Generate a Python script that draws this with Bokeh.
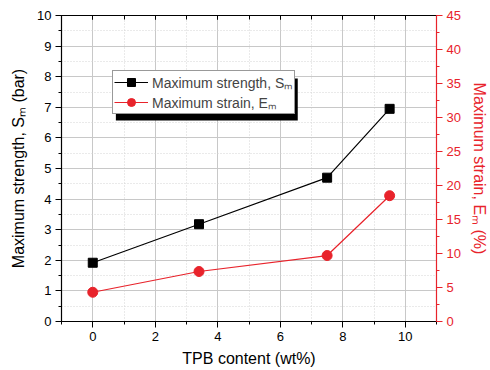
from bokeh.plotting import figure
from bokeh.models import (LinearAxis, Range1d, SingleIntervalTicker, Legend, LegendItem,
                          BoxAnnotation, CustomJSTickFormatter)
from bokeh.embed import file_html
from bokeh.resources import INLINE

# data
tpb = [0.0, 3.4, 7.5, 9.5]
strength = [1.92, 3.18, 4.70, 6.95]
strain = [4.3, 7.35, 9.7, 18.5]

RED = "#e8232b"
FONT = "Liberation Sans"

p = figure(width=490, height=370, output_backend="svg", toolbar_location=None,
           x_range=Range1d(-1, 11), y_range=Range1d(0, 10),
           min_border_left=61, min_border_right=49, min_border_top=15, min_border_bottom=49)
p.extra_y_ranges = {"right": Range1d(0, 45)}
p.outline_line_color = "black"
p.outline_line_width = 1
p.background_fill_color = "white"

xt = SingleIntervalTicker(interval=2, num_minor_ticks=2)
yt = SingleIntervalTicker(interval=1, num_minor_ticks=2)
p.xaxis.ticker = xt
p.yaxis.ticker = yt

for ax in (p.xaxis[0], p.yaxis[0]):
    ax.axis_line_color = "black"
    ax.axis_line_width = 1.2
    ax.major_tick_line_color = "black"
    ax.minor_tick_line_color = "black"
    ax.major_tick_in = 0
    ax.major_tick_out = 6
    ax.minor_tick_in = 0
    ax.minor_tick_out = 3
    ax.major_label_text_font = FONT
    ax.major_label_text_font_size = "13px"
    ax.major_label_text_color = "black"
    ax.axis_label_text_font = FONT
    ax.axis_label_text_font_size = "16px"
    ax.axis_label_text_font_style = "normal"
    ax.axis_label_text_color = "black"
    ax.major_label_standoff = 4

p.xaxis.axis_label = "TPB content (wt%)"
p.xaxis.axis_label_standoff = 6
p.yaxis.axis_label = "Maximum strength, S\u2098 (bar)"
p.yaxis.axis_label_standoff = 7

# right axis
ra = LinearAxis(y_range_name="right", ticker=SingleIntervalTicker(interval=5, num_minor_ticks=2),
                axis_label="Maximum strain, E\u2098 (%)")
ra.axis_line_color = RED
ra.axis_line_width = 1.2
ra.major_tick_line_color = RED
ra.minor_tick_line_color = RED
ra.major_tick_in = 0
ra.major_tick_out = 6
ra.minor_tick_in = 0
ra.minor_tick_out = 3
ra.major_label_text_color = RED
ra.major_label_text_font = FONT
ra.major_label_text_font_size = "13px"
ra.major_label_standoff = 4
ra.axis_label_text_color = RED
ra.axis_label_text_font = FONT
ra.axis_label_text_font_size = "16px"
ra.axis_label_text_font_style = "normal"
ra.axis_label_standoff = 7
p.add_layout(ra, "right")

# top axis (mirror ticks inward, no labels)
ta = LinearAxis(ticker=SingleIntervalTicker(interval=2, num_minor_ticks=2),
                formatter=CustomJSTickFormatter(code="return ''"))
ta.axis_line_color = "black"
ta.major_tick_in = 4
ta.major_tick_out = 0
ta.minor_tick_in = 4
ta.minor_tick_out = 0
ta.major_label_standoff = 0
p.add_layout(ta, "above")

# grid
p.xgrid.grid_line_color = "#c8c8c8"
p.ygrid.grid_line_color = "#c8c8c8"
p.xgrid.minor_grid_line_color = "#d4d4d4"
p.ygrid.minor_grid_line_color = "#d4d4d4"
p.xgrid.minor_grid_line_dash = "1 2"
p.ygrid.minor_grid_line_dash = "1 2"

# data
l1 = p.line(tpb, strength, line_color="black", line_width=1.2)
s1 = p.scatter(tpb, strength, marker="square", size=9, fill_color="black", line_color="black")
l2 = p.line(tpb, strain, line_color=RED, line_width=1.2, y_range_name="right")
s2 = p.scatter(tpb, strain, marker="circle", size=10, fill_color=RED, line_color=RED,
               y_range_name="right")

# legend shadow
shadow = BoxAnnotation(left=0.74, right=6.56, top=7.94, bottom=6.57,
                       fill_color="black", fill_alpha=1, line_color=None)
p.add_layout(shadow)

legend = Legend(items=[LegendItem(label="Maximum strength, S\u2098", renderers=[l1, s1]),
                       LegendItem(label="Maximum strain, E\u2098", renderers=[l2, s2])],
                location=(51, 207), orientation="vertical")
legend.border_line_color = "#333333"
legend.border_line_width = 1
legend.background_fill_color = "white"
legend.background_fill_alpha = 1
legend.label_text_font = FONT
legend.label_text_font_size = "14px"
legend.glyph_width = 34
legend.glyph_height = 20
legend.label_height = 20
legend.label_standoff = 4
legend.padding = 1
legend.margin = 0
legend.spacing = 0
p.add_layout(legend)

open("out.html", "w").write(file_html(p, INLINE))
